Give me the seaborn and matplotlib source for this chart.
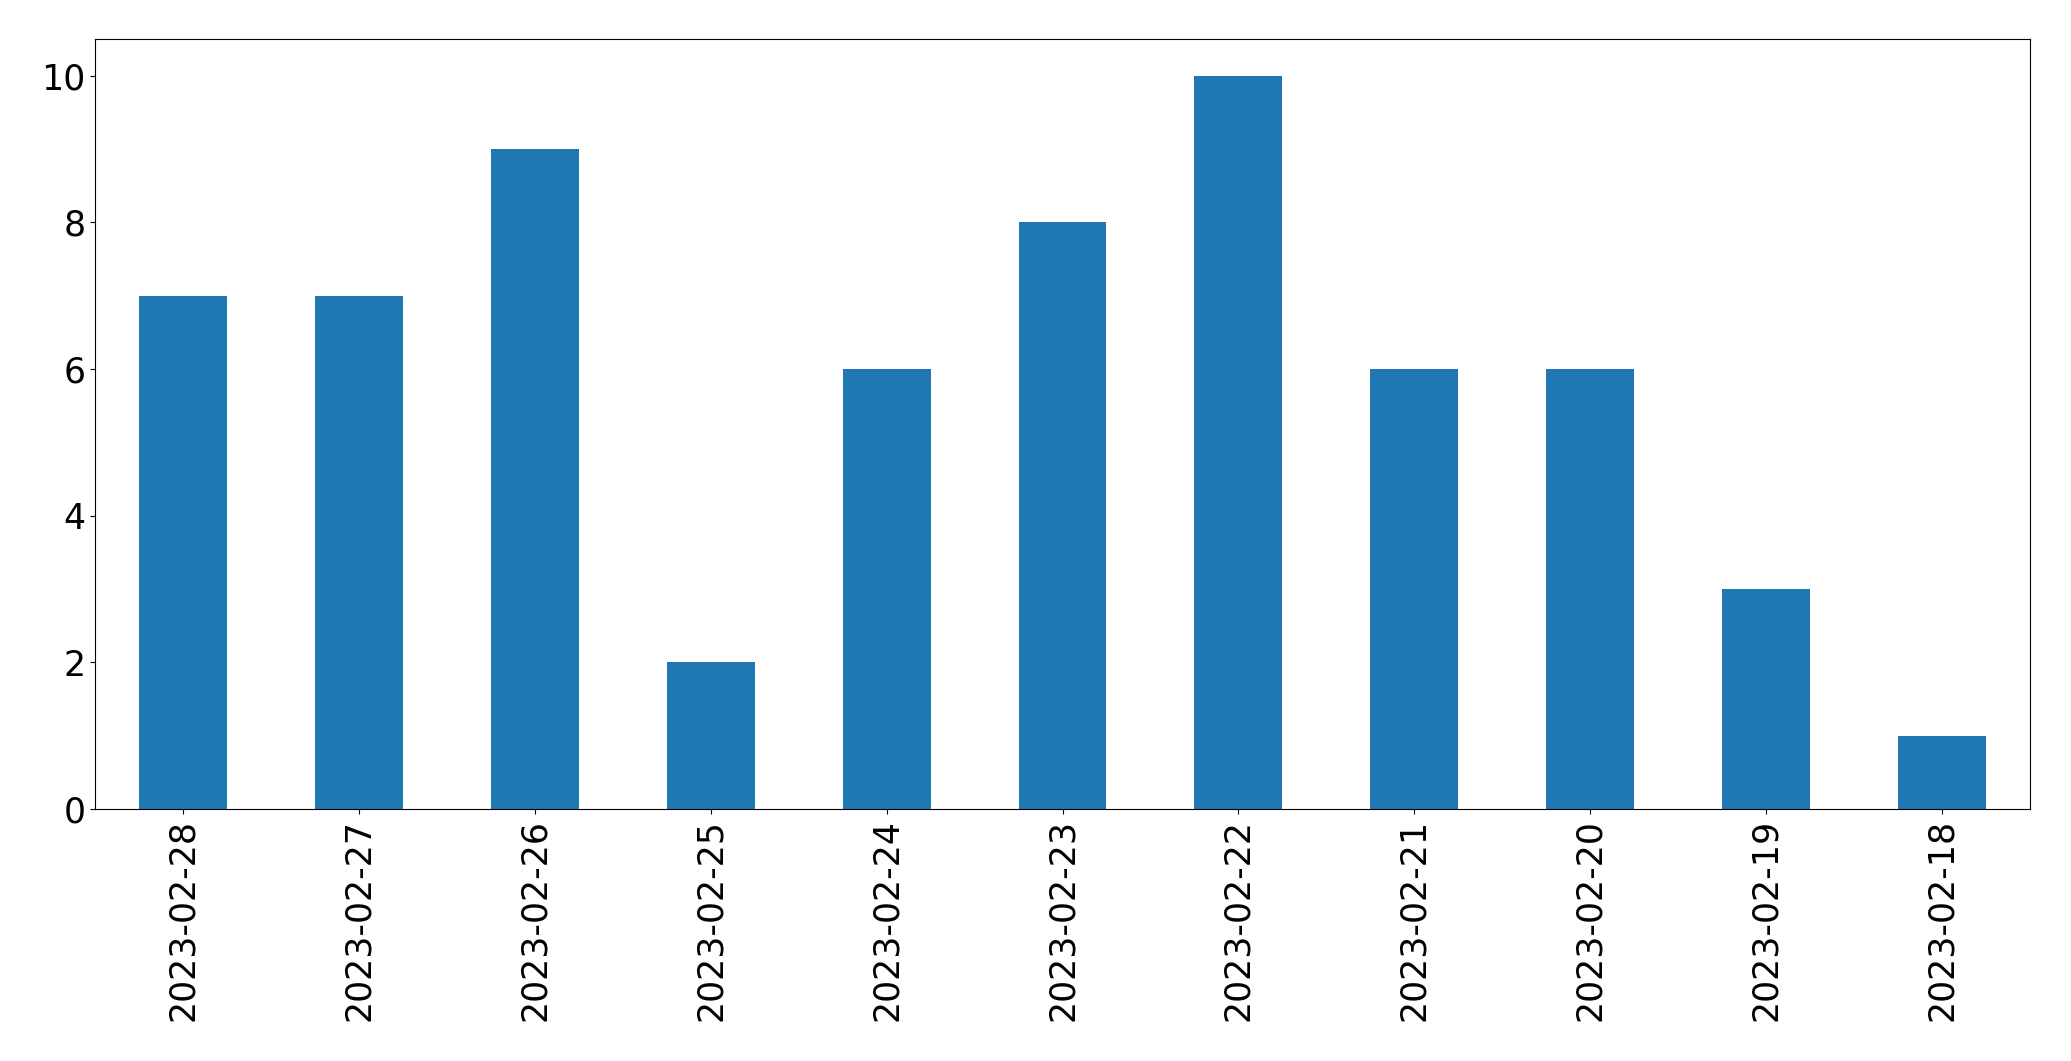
import matplotlib
matplotlib.use("Agg")
import matplotlib.pyplot as plt
import seaborn as sns
import pandas as pd

dates = ["2023-02-28", "2023-02-27", "2023-02-26", "2023-02-25", "2023-02-24",
         "2023-02-23", "2023-02-22", "2023-02-21", "2023-02-20", "2023-02-19",
         "2023-02-18"]
counts = [7, 7, 9, 2, 6, 8, 10, 6, 6, 3, 1]

df = pd.DataFrame({"date": dates, "count": counts})

plt.rcParams["font.family"] = ["DejaVu Sans"]
fig = plt.figure(figsize=(20.71, 10.61), dpi=100)
ax = fig.add_axes([95 / 2071, 1 - 809 / 1061, (2030 - 95) / 2071, (809 - 39) / 1061])
sns.barplot(data=df, x="date", y="count", order=dates, color="#1f77b4",
            saturation=1, width=0.5, linewidth=0, ax=ax)
ax.set_xlabel("")
ax.set_ylabel("")
ax.set_xlim(-0.5, len(dates) - 0.5)
ax.set_ylim(0, 10.5)
ax.set_yticks([0, 2, 4, 6, 8, 10])
ax.tick_params(axis="both", labelsize=25)
ax.tick_params(axis="x", labelrotation=90)
for s in ax.spines.values():
    s.set_visible(True)
    s.set_color("black")
fig.savefig("out.png", dpi=100)
